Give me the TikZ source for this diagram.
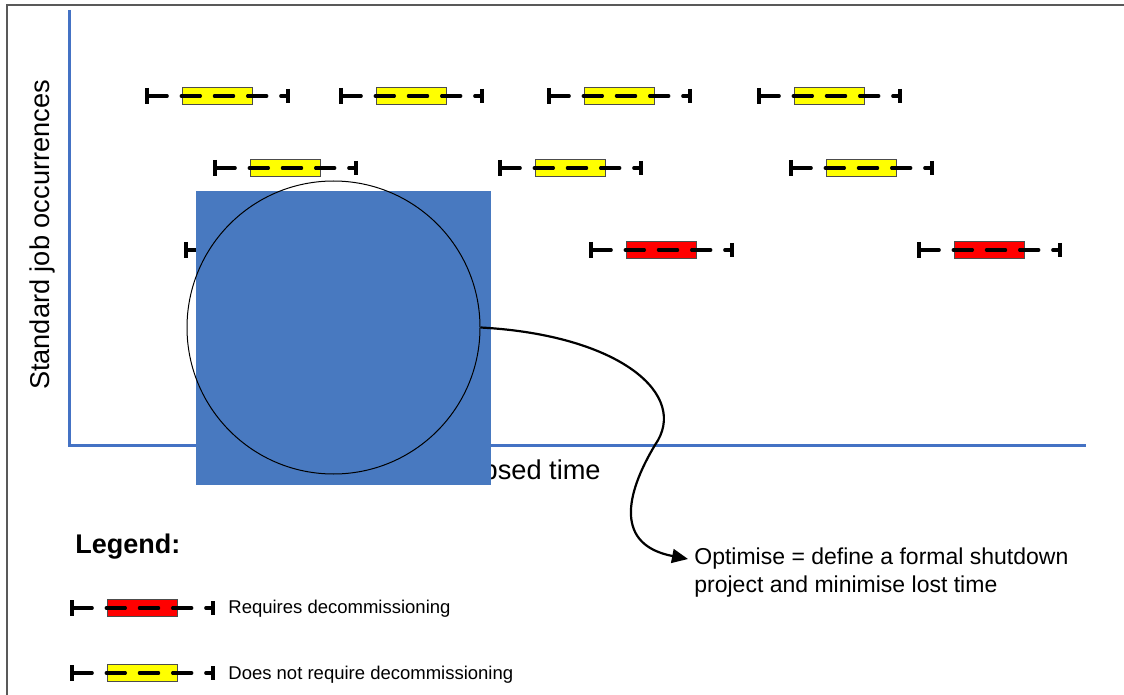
\documentclass[tikz,border=0pt]{standalone}
\usepackage{fontspec}
\setmainfont{Liberation Sans}
\definecolor{axisblue}{RGB}{68,114,196}
\definecolor{patchblue}{RGB}{72,121,192}
\definecolor{framegray}{RGB}{89,89,89}
\definecolor{barred}{RGB}{255,0,0}
\definecolor{baryellow}{RGB}{255,255,0}
\usetikzlibrary{arrows.meta,positioning,calc}

% one job occurrence: box with dashed whisker and end ticks
\newcommand{\jobbar}[4]{%
  \coordinate (#1-l) at (#2,#3);
  \coordinate (#1-r) at ($(#1-l)+(141,0)$);
  \node[jobbox, fill=#4] (#1) at ($(#1-l)+(70,0)$) {};
  \draw[whisker] ($(#1-l)+(1,0)$) -- ($(#1-r)+(-1,0)$);
  \draw[barend] ($(#1-l)+(0,-8)$) -- ($(#1-l)+(0,8)$);
  \draw[barend] ($(#1-r)+(0,-7)$) -- ($(#1-r)+(0,7)$);
}

\begin{document}
\begin{tikzpicture}[x=0.5pt, y=-0.5pt,
  jobbox/.style={draw=black!70, line width=0.5pt, minimum width=35pt,
    minimum height=8.5pt, inner sep=0pt},
  whisker/.style={line width=1.6pt, line cap=round, dash pattern=on 9.6pt off 7pt},
  barend/.style={line width=1.6pt},
  axisline/.style={axisblue, line width=1.5pt},
  axislabel/.style={font=\fontsize{13.6}{16}\selectfont},
  legendtext/.style={anchor=west, inner sep=0pt, font=\fontsize{9.25}{11}\selectfont}]

\useasboundingbox (0,0) rectangle (1124,695);

% Frame
\draw[framegray, line width=1pt] (7,695) -- (7,5) -- (1124,5);

% Axes
\coordinate (origin) at (69,445);
\coordinate (ytop) at (69,10);
\coordinate (xend) at (1086,445);
\draw[axisline] (ytop) -- (origin) -- (xend);
\node[axislabel, rotate=90] (ylabel) at (42,235) {Standard job occurrences};
\node[axislabel] (xlabel) at (522,472) {Elapsed time};

% Row 1
\jobbar{a1}{147}{96}{baryellow}
\jobbar{a2}{341}{96}{baryellow}
\jobbar{a3}{549}{96}{baryellow}
\jobbar{a4}{759}{96}{baryellow}

% Row 2
\jobbar{b1}{215}{168}{baryellow}
\jobbar{b2}{500}{168}{baryellow}
\jobbar{b3}{791}{168}{baryellow}

% Row 3
\jobbar{c1}{186}{250}{barred}
\jobbar{c2}{591}{250}{barred}
\jobbar{c3}{919}{250}{barred}

% Blue patch and circle
\node[fill=patchblue, minimum width=147.5pt, minimum height=147pt, inner sep=0pt]
  (patch) at (343.5,338) {};
\node[draw=black, line width=0.5pt, circle, minimum size=146.5pt, inner sep=0pt]
  (zoomcircle) at (333.5,327.5) {};

% Note
\node[anchor=west, align=left, inner sep=1pt,
  font=\fontsize{11.5}{14}\selectfont] (note) at (692,573)
  {Optimise = define a formal shutdown\\project and minimise lost time};
\draw[line width=1.1pt, -{Stealth[length=8pt, width=7pt, inset=0pt]}]
  (zoomcircle.east) .. controls (620,335) and (690,395) .. (655,445)
  .. controls (625,495) and (615,545) .. ([xshift=-2pt, yshift=7pt]note.west);

% Legend
\node[anchor=west, inner sep=0pt, font=\fontsize{13.5}{16}\selectfont\bfseries]
  (legend) at (75,547) {Legend:};
\jobbar{lr}{72}{608}{barred}
\node[legendtext] (lrtext) at (228,609) {Requires decommissioning};
\jobbar{ly}{72}{673}{baryellow}
\node[legendtext] (lytext) at (228,675) {Does not require decommissioning};

\end{tikzpicture}
\end{document}
